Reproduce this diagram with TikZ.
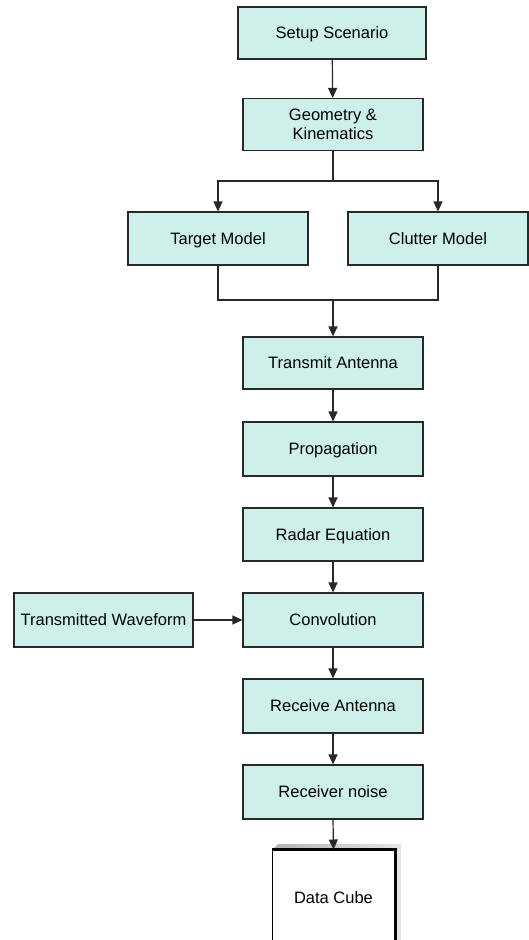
\documentclass[tikz,border=0pt]{standalone}
\usepackage{fontspec}
\setmainfont{Liberation Sans}
\usetikzlibrary{arrows.meta,shadings}
\definecolor{boxfill}{RGB}{205,240,235}
\definecolor{linec}{RGB}{40,40,40}
\tikzset{
  blk/.style={draw=linec, line width=1.1pt, fill=boxfill, minimum width=180pt, minimum height=53pt,
    inner sep=0pt, align=center, font=\fontsize{16.5}{19}\selectfont, text height=12pt, text depth=1pt},
  conn/.style={draw=linec, line width=1.2pt},
  arr/.style={conn, -{Triangle[width=9pt,length=10pt]}}
}
\begin{document}
\begin{tikzpicture}[x=1pt,y=-1pt]
\useasboundingbox (0,0) rectangle (528,940);
\node[blk, minimum width=188pt, minimum height=52pt] (setup) at (332,33) {Setup Scenario};
\node[blk, minimum height=52pt, text height=, text depth=] (geom) at (333,124.5) {Geometry \&\\Kinematics};
\node[blk] (target) at (218,238.5) {Target Model};
\node[blk] (clutter) at (438,238.5) {Clutter Model};
\node[blk, minimum height=52pt] (transmit) at (333,363) {Transmit Antenna};
\node[blk, minimum height=54pt] (prop) at (333,449) {Propagation};
\node[blk] (radar) at (333,534.5) {Radar Equation};
\node[blk, minimum height=54pt] (conv) at (333,620) {Convolution};
\node[blk, minimum width=179pt, minimum height=54pt] (wave) at (103.5,620) {Transmitted Waveform};
\node[blk, minimum height=54pt] (recv) at (333,706) {Receive Antenna};
\node[blk, minimum height=54pt] (noise) at (333,792) {Receiver noise};
% data cube
\shade[left color=gray!60, right color=gray!20] (272,850) -- (278,844) -- (401,844) -- (401,945) -- (395,945) -- (395,850) -- cycle;
\node[draw=black, line width=1pt, fill=white, minimum width=123pt, minimum height=96pt, inner sep=0pt,
  font=\fontsize{16.5}{19}\selectfont] (cube) at (333.5,898) {Data Cube};
\draw[black, line width=3pt] (cube.north west) -- (cube.north east) -- (cube.south east);
% connectors
\draw[arr] (setup) -- (geom);
\coordinate (split) at (333,181);
\draw[conn] (geom.south) -- (split);
\draw[arr] (split) -| (target.north);
\draw[arr] (split) -| (clutter.north);
\coordinate (merge) at (333,300);
\draw[conn] (target.south) |- (merge) -| (clutter.south);
\draw[arr] (merge) -- (transmit.north);
\draw[arr] (transmit) -- (prop);
\draw[arr] (prop) -- (radar);
\draw[arr] (radar) -- (conv);
\draw[arr] (wave) -- (conv);
\draw[arr] (conv) -- (recv);
\draw[arr] (recv) -- (noise);
\draw[arr] (noise.south) -- (cube.north);
\end{tikzpicture}
\end{document}
